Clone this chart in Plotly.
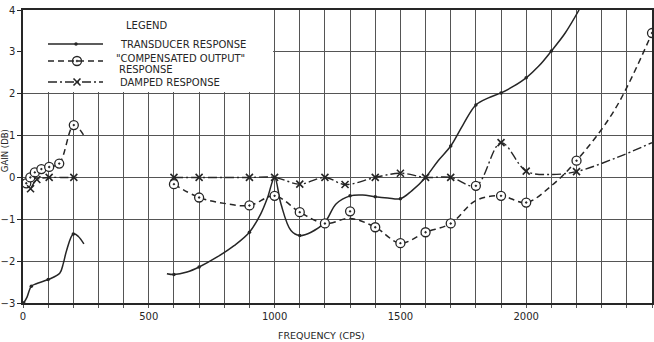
import plotly.graph_objects as go

# ---------------- data ----------------
# Transducer response (solid line, small dots)
trans_lo_x = [3, 16, 33, 53, 100, 146, 160, 173, 200, 220, 242]
trans_lo_y = [-3.00, -2.86, -2.60, -2.54, -2.44, -2.29, -2.06, -1.75, -1.35, -1.41, -1.59]
trans_hi_x = [572, 600, 652, 700, 772, 839, 900, 945, 972, 1000, 1025, 1065, 1100, 1145, 1200,
              1245, 1300, 1350, 1400, 1450, 1500, 1545, 1600, 1650, 1700, 1750, 1800, 1850,
              1900, 1950, 2000, 2050, 2100, 2155, 2210]
trans_hi_y = [-2.30, -2.32, -2.26, -2.14, -1.90, -1.63, -1.31, -0.87, -0.48, 0.00, -0.63, -1.27,
              -1.39, -1.31, -1.07, -0.63, -0.44, -0.42, -0.46, -0.49, -0.51, -0.32, 0.00, 0.40,
              0.75, 1.27, 1.73, 1.90, 2.02, 2.18, 2.38, 2.66, 3.02, 3.45, 4.00]
trans_pts_x = [3, 33, 100, 200, 600, 700, 900, 1100, 1300, 1400, 1500, 1600, 1700, 1800, 1900, 2000, 2100]
trans_pts_y = [-3.00, -2.60, -2.44, -1.35, -2.32, -2.14, -1.31, -1.39, -0.44, -0.46, -0.51, 0.00,
               0.75, 1.73, 2.02, 2.38, 3.02]

# "Compensated output" response (dashed line, dotted circles)
comp_lo_x = [13, 29, 47, 73, 104, 144, 202, 243]
comp_lo_y = [-0.14, 0.00, 0.12, 0.20, 0.25, 0.33, 1.25, 0.99]
comp_hi_x = [600, 700, 800, 900, 1000, 1100, 1200, 1300, 1400, 1500, 1600, 1700, 1800, 1900,
             2000, 2100, 2200, 2350, 2500]
comp_hi_y = [-0.16, -0.48, -0.62, -0.67, -0.44, -0.83, -1.10, -0.98, -1.19, -1.57, -1.31, -1.10,
             -0.55, -0.44, -0.60, -0.20, 0.40, 1.60, 3.45]
comp_pts_x = [13, 29, 47, 73, 104, 144, 202, 600, 700, 900, 1000, 1100, 1200, 1300, 1400, 1500,
              1600, 1700, 1800, 1900, 2000, 2200, 2500]
comp_pts_y = [-0.14, 0.00, 0.12, 0.20, 0.25, 0.33, 1.25, -0.16, -0.48, -0.67, -0.44, -0.83, -1.10,
              -0.81, -1.19, -1.57, -1.31, -1.10, -0.20, -0.44, -0.60, 0.40, 3.45]

# Damped response (dash-dot line, crosses)
damp_lo_x = [30, 55, 75, 104, 150, 202, 215]
damp_lo_y = [-0.27, -0.05, -0.02, 0.00, 0.00, 0.00, 0.00]
damp_hi_x = [600, 700, 800, 900, 1000, 1100, 1200, 1280, 1400, 1500, 1600, 1700, 1800, 1900,
             2000, 2100, 2200, 2350, 2500]
damp_hi_y = [0.00, 0.00, 0.00, 0.00, 0.00, -0.16, 0.00, -0.17, 0.00, 0.10, 0.00, 0.00, -0.20,
             0.83, 0.15, 0.07, 0.14, 0.45, 0.83]
damp_pts_x = [30, 55, 104, 202, 600, 700, 900, 1000, 1100, 1200, 1280, 1400, 1500, 1600, 1700,
              1900, 2000, 2200]
damp_pts_y = [-0.27, -0.05, 0.00, 0.00, 0.00, 0.00, 0.00, 0.00, -0.16, 0.00, -0.17, 0.00, 0.10,
              0.00, 0.00, 0.83, 0.15, 0.14]

x_tick_vals = [0, 500, 1000, 1500, 2000]
x_tick_text = ["0", "500", "1000", "1500", "2000"]
y_tick_vals = [-3, -2, -1, 0, 1, 2, 3, 4]

legend_title = "LEGEND"
legend_lines = ["TRANSDUCER RESPONSE", "\"COMPENSATED OUTPUT\"", "RESPONSE", "DAMPED RESPONSE"]

# ---------------- styling ----------------
INK = "#262626"
GRID = "#555555"
FONT = "DejaVu Sans"
DASH = "6px,4px"
DASHDOT = "9px,3px,2px,3px"

fig = go.Figure()

def curve(x, y, dash, width):
    fig.add_trace(go.Scatter(x=x, y=y, mode="lines", showlegend=False, hoverinfo="skip",
                             line=dict(color=INK, width=width, dash=dash, shape="spline",
                                       smoothing=1.0)))

curve(trans_lo_x, trans_lo_y, "solid", 1.5)
curve(trans_hi_x, trans_hi_y, "solid", 1.5)
curve(comp_lo_x, comp_lo_y, DASH, 1.5)
curve(comp_hi_x, comp_hi_y, DASH, 1.5)
curve(damp_lo_x, damp_lo_y, DASHDOT, 1.4)
curve(damp_hi_x, damp_hi_y, DASHDOT, 1.4)

fig.add_trace(go.Scatter(x=trans_pts_x, y=trans_pts_y, mode="markers", showlegend=False,
                         hoverinfo="skip", marker=dict(symbol="circle", size=3.5, color=INK)))
fig.add_trace(go.Scatter(x=comp_pts_x, y=comp_pts_y, mode="markers", showlegend=False,
                         hoverinfo="skip",
                         marker=dict(symbol="circle-dot", size=9, color="white",
                                     line=dict(color=INK, width=1.3))))
fig.add_trace(go.Scatter(x=damp_pts_x, y=damp_pts_y, mode="markers", showlegend=False,
                         hoverinfo="skip",
                         marker=dict(symbol="x-thin-open", size=7, color=INK,
                                     line=dict(color=INK, width=1.6))))

# ---------------- hand-drawn legend (pixel overlay axes) ----------------
L, R, T, B = 23, 652, 10, 303
leg_y = [44, 61, 82]
leg_dash = ["solid", DASH, DASHDOT]
for yy, dsh in zip(leg_y, leg_dash):
    fig.add_shape(type="line", xref="x2", yref="y2", x0=48, x1=103, y0=yy, y1=yy,
                  line=dict(color=INK, width=1.5, dash=dsh))
fig.add_trace(go.Scatter(x=[76], y=[leg_y[0]], xaxis="x2", yaxis="y2", mode="markers",
                         showlegend=False, hoverinfo="skip",
                         marker=dict(symbol="circle", size=3.5, color=INK)))
fig.add_trace(go.Scatter(x=[77], y=[leg_y[1]], xaxis="x2", yaxis="y2", mode="markers",
                         showlegend=False, hoverinfo="skip",
                         marker=dict(symbol="circle-dot", size=9, color="white",
                                     line=dict(color=INK, width=1.3))))
fig.add_trace(go.Scatter(x=[77], y=[leg_y[2]], xaxis="x2", yaxis="y2", mode="markers",
                         showlegend=False, hoverinfo="skip",
                         marker=dict(symbol="x-thin-open", size=7, color=INK,
                                     line=dict(color=INK, width=1.6))))

annos = [
    dict(x=146, y=25, text=legend_title, xanchor="center"),
    dict(x=118, y=44, text=legend_lines[0], xanchor="left"),
    dict(x=114, y=58, text=legend_lines[1], xanchor="left"),
    dict(x=117, y=69.5, text=legend_lines[2], xanchor="left"),
    dict(x=118, y=82, text=legend_lines[3], xanchor="left"),
]
for a in annos:
    fig.add_annotation(xref="x2", yref="y2", yanchor="middle", showarrow=False,
                       font=dict(family=FONT, size=10, color=INK), **a)

# white patch hiding the grid behind the legend
fig.add_shape(type="rect", xref="x", yref="y", x0=0, x1=994, y0=2.04, y1=4,
              fillcolor="white", line=dict(width=0), layer="between")

# axis titles
fig.add_annotation(xref="paper", yref="paper", x=0.475, y=0, yshift=-32, showarrow=False,
                   text="FREQUENCY (CPS)", xanchor="center", yanchor="middle",
                   font=dict(family=FONT, size=9.5, color=INK))
fig.add_annotation(xref="paper", yref="paper", x=0, y=0.52, xshift=-18.5, showarrow=False,
                   text="GAIN (DB)", textangle=-90, xanchor="center", yanchor="middle",
                   font=dict(family=FONT, size=8.5, color=INK))

fig.update_layout(
    width=654, height=342,
    margin=dict(l=L, r=654 - R, t=T, b=342 - B, autoexpand=False),
    paper_bgcolor="white", plot_bgcolor="white",
    showlegend=False,
    xaxis=dict(range=[0, 2500], tickvals=x_tick_vals, ticktext=x_tick_text, automargin=False,
               showgrid=True, gridcolor=GRID, gridwidth=1.3,
               minor=dict(dtick=100, tick0=0, showgrid=True, gridcolor=GRID, gridwidth=1.3,
                          ticks="outside", ticklen=3, tickcolor=GRID),
               ticks="outside", ticklen=3, tickcolor=GRID,
               showline=True, linecolor=INK, linewidth=1.5, mirror=True,
               zeroline=False, tickfont=dict(family=FONT, size=10, color=INK)),
    yaxis=dict(range=[-3, 4], tickvals=y_tick_vals, automargin=False,
               showgrid=True, gridcolor=GRID,
               gridwidth=1.3, ticks="outside", ticklen=4, tickcolor=INK,
               showline=True, linecolor=INK, linewidth=1.5, mirror=True,
               zeroline=False, tickfont=dict(family=FONT, size=10, color=INK)),
    xaxis2=dict(range=[L, R], overlaying="x", visible=False),
    yaxis2=dict(range=[B, T], overlaying="y", visible=False),
)

fig.write_html("out.html", config={"displayModeBar": False},
               post_script="document.body.style.margin='0px';document.body.style.overflow='hidden';")
